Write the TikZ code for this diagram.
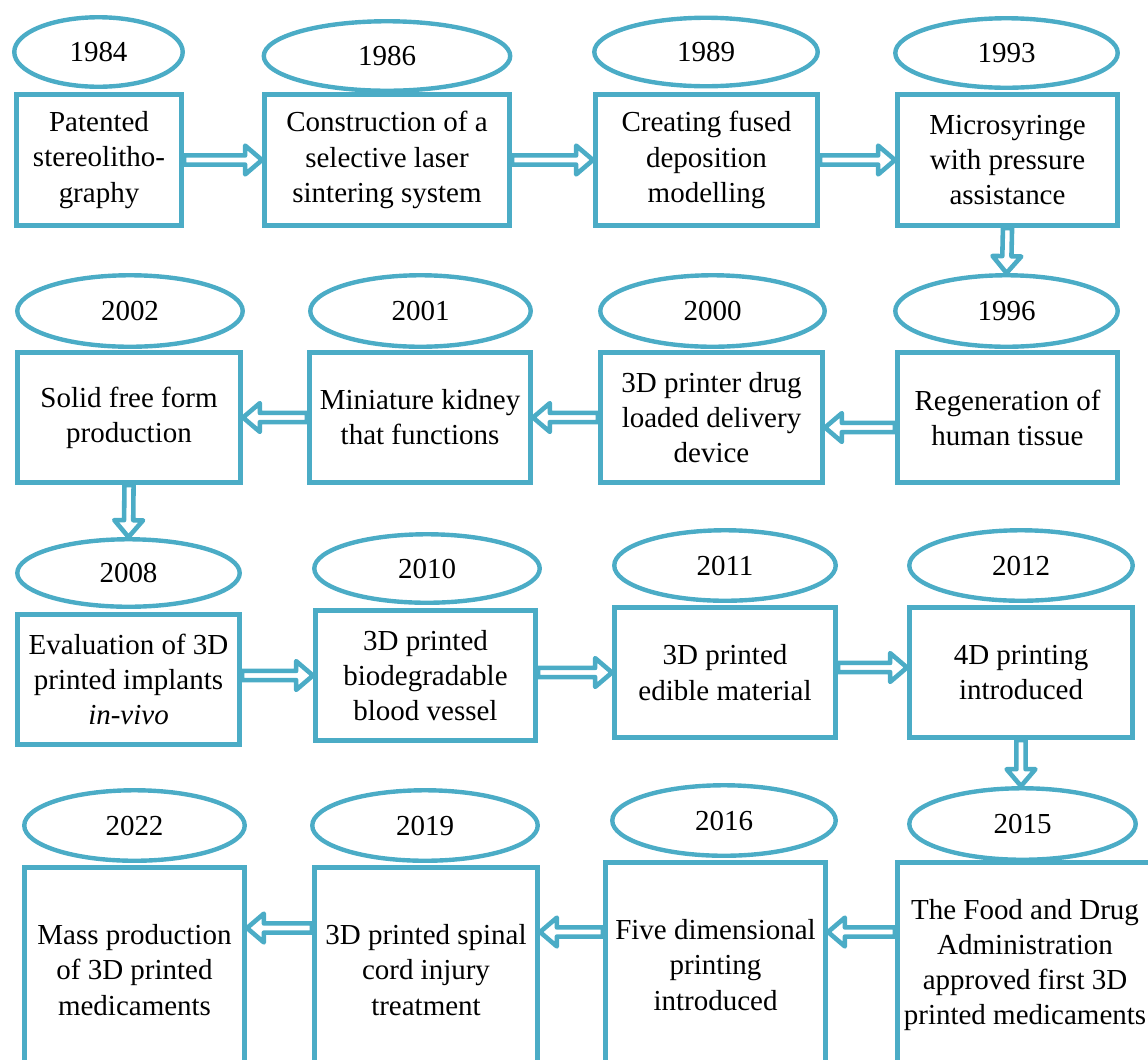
\documentclass[tikz,border=0pt]{standalone}
\usepackage{fontspec}
\setmainfont{Liberation Serif}
\usetikzlibrary{calc,shapes.geometric}
\definecolor{aqua}{RGB}{75,172,198}
\def\sw{2.6pt}% half shaft
\def\hw{8.2pt}% half head
\def\hl{9.6pt}% head length
\tikzset{
	every picture/.style={x=0.02cm,y=-0.02cm},
	year/.style={ellipse,draw=aqua,line width=2.5pt,inner sep=0pt,
		font=\fontsize{16.5}{20}\selectfont},
	event/.style={rectangle,draw=aqua,line width=2.6pt,align=center,inner sep=0pt,
		font=\fontsize{16.5}{20}\selectfont},
	flow/.style={draw=aqua,fill=white,line width=2.6pt,line join=round,
		to path={let \p1=($(\tikztotarget)!\hl!(\tikztostart)$) in
			($(\tikztostart)!\sw!90:(\tikztotarget)$) -- ($(\p1)!\sw!90:(\tikztotarget)$)
			-- ($(\p1)!\hw!90:(\tikztotarget)$) -- (\tikztotarget)
			-- ($(\p1)!\hw!-90:(\tikztotarget)$) -- ($(\p1)!\sw!-90:(\tikztotarget)$)
			-- ($(\tikztostart)!\sw!-90:(\tikztotarget)$) -- cycle}}
}
\begin{document}
\begin{tikzpicture}
	\useasboundingbox (0,0) rectangle (1148,1059);
	\clip (0,0) rectangle (1148,1059);
	% row 1
	\node (b1984) at (99,160) [event,minimum width=3.31cm,minimum height=2.63cm] {Patented\\stereolitho-\\graphy};
	\node (b1986) at (387,160) [event,minimum width=4.91cm,minimum height=2.63cm] {Construction of a\\selective laser\\sintering system};
	\node (b1989) at (706.5,160) [event,minimum width=4.45cm,minimum height=2.63cm] {Creating fused\\deposition\\modelling};
	\node (b1993) at (1007.5,160) [event,minimum width=4.41cm,minimum height=2.63cm] {Microsyringe\\with pressure\\assistance};
	\node (e1984) at (98.5,52) [year,minimum width=3.37cm,minimum height=1.39cm] {1984};
	\node (e1986) at (387,56) [year,minimum width=4.93cm,minimum height=1.39cm] {1986};
	\node (e1989) at (706,52) [year,minimum width=4.47cm,minimum height=1.37cm] {1989};
	\node (e1993) at (1006.5,53) [year,minimum width=4.45cm,minimum height=1.39cm] {1993};
	% row 2
	\node (b2002) at (129,417.5) [event,minimum width=4.47cm,minimum height=2.61cm] {Solid free form\\production};
	\node (b2001) at (420,417.5) [event,minimum width=4.43cm,minimum height=2.61cm] {Miniature kidney\\that functions};
	\node (b2000) at (711.5,417.5) [event,minimum width=4.45cm,minimum height=2.61cm] {3D printer drug\\loaded delivery\\device};
	\node (b1996) at (1007.5,417.5) [event,minimum width=4.41cm,minimum height=2.61cm] {Regeneration of\\human tissue};
	\node (e2002) at (130,311) [year,minimum width=4.51cm,minimum height=1.43cm] {2002};
	\node (e2001) at (420.5,311) [year,minimum width=4.41cm,minimum height=1.43cm] {2001};
	\node (e2000) at (712.5,311) [year,minimum width=4.49cm,minimum height=1.43cm] {2000};
	\node (e1996) at (1006.5,311) [year,minimum width=4.45cm,minimum height=1.43cm] {1996};
	% row 3
	\node (b2008) at (128.5,679.5) [event,minimum width=4.45cm,minimum height=2.61cm] {Evaluation of 3D\\printed implants\\\textit{in-vivo}};
	\node (b2010) at (425.5,675.5) [event,minimum width=4.41cm,minimum height=2.61cm] {3D printed\\biodegradable\\blood vessel};
	\node (b2011) at (725,672.5) [event,minimum width=4.43cm,minimum height=2.61cm] {3D printed\\edible material};
	\node (b2012) at (1021,672.5) [event,minimum width=4.47cm,minimum height=2.61cm] {4D printing\\introduced};
	\node (e2008) at (128.5,573) [year,minimum width=4.45cm,minimum height=1.35cm] {2008};
	\node (e2010) at (427,568.5) [year,minimum width=4.51cm,minimum height=1.37cm] {2010};
	\node (e2011) at (725,565.5) [year,minimum width=4.43cm,minimum height=1.41cm] {2011};
	\node (e2012) at (1021,565.5) [year,minimum width=4.47cm,minimum height=1.41cm] {2012};
	% row 4
	\node (b2022) at (134.5,970) [event,minimum width=4.41cm,minimum height=4.11cm] {Mass production\\of 3D printed\\medicaments};
	\node (b2019) at (426,970) [event,minimum width=4.47cm,minimum height=4.11cm] {3D printed spinal\\cord injury\\treatment};
	\node (b2016) at (715.5,965) [event,minimum width=4.41cm,minimum height=4.11cm] {Five dimensional\\printing\\introduced};
	\node (b2015) at (1025,965) [event,minimum width=5.11cm,minimum height=4.11cm] {The Food and Drug\\Administration\\approved first 3D\\printed medicaments};
	\node (e2022) at (134.5,825.5) [year,minimum width=4.41cm,minimum height=1.41cm] {2022};
	\node (e2019) at (425,825.5) [year,minimum width=4.51cm,minimum height=1.41cm] {2019};
	\node (e2016) at (724,820.5) [year,minimum width=4.47cm,minimum height=1.41cm] {2016};
	\node (e2015) at (1022.5,824) [year,minimum width=4.53cm,minimum height=1.43cm] {2015};
	% arrows
	\draw[flow] (b1984.east) to (b1986.west);
	\draw[flow] (b1986.east) to (b1989.west);
	\draw[flow] (b1989.east) to (b1993.west);
	\draw[flow] (b1993.south) to (e1996.north);
	\draw[flow] ($(b1996.west)+(0,10)$) to ($(b2000.east)+(0,10)$);
	\draw[flow] (b2000.west) to (b2001.east);
	\draw[flow] (b2001.west) to (b2002.east);
	\draw[flow] (b2002.south) to (e2008.north);
	\draw[flow] ($(b2008.east)+(0,-4)$) to (b2010.west);
	\draw[flow] ($(b2010.east)+(0,-3)$) to (b2011.west);
	\draw[flow] ($(b2011.east)+(0,-5)$) to ($(b2012.west)+(0,-5)$);
	\draw[flow] (b2012.south) to (b2012.south |- e2015.north);
	\draw[flow] ($(b2015.west)+(0,-33)$) to ($(b2016.east)+(0,-33)$);
	\draw[flow] ($(b2016.west)+(0,-33)$) to ($(b2019.east)+(0,-38)$);
	\draw[flow] ($(b2019.west)+(0,-42)$) to ($(b2022.east)+(0,-42)$);
\end{tikzpicture}
\end{document}
